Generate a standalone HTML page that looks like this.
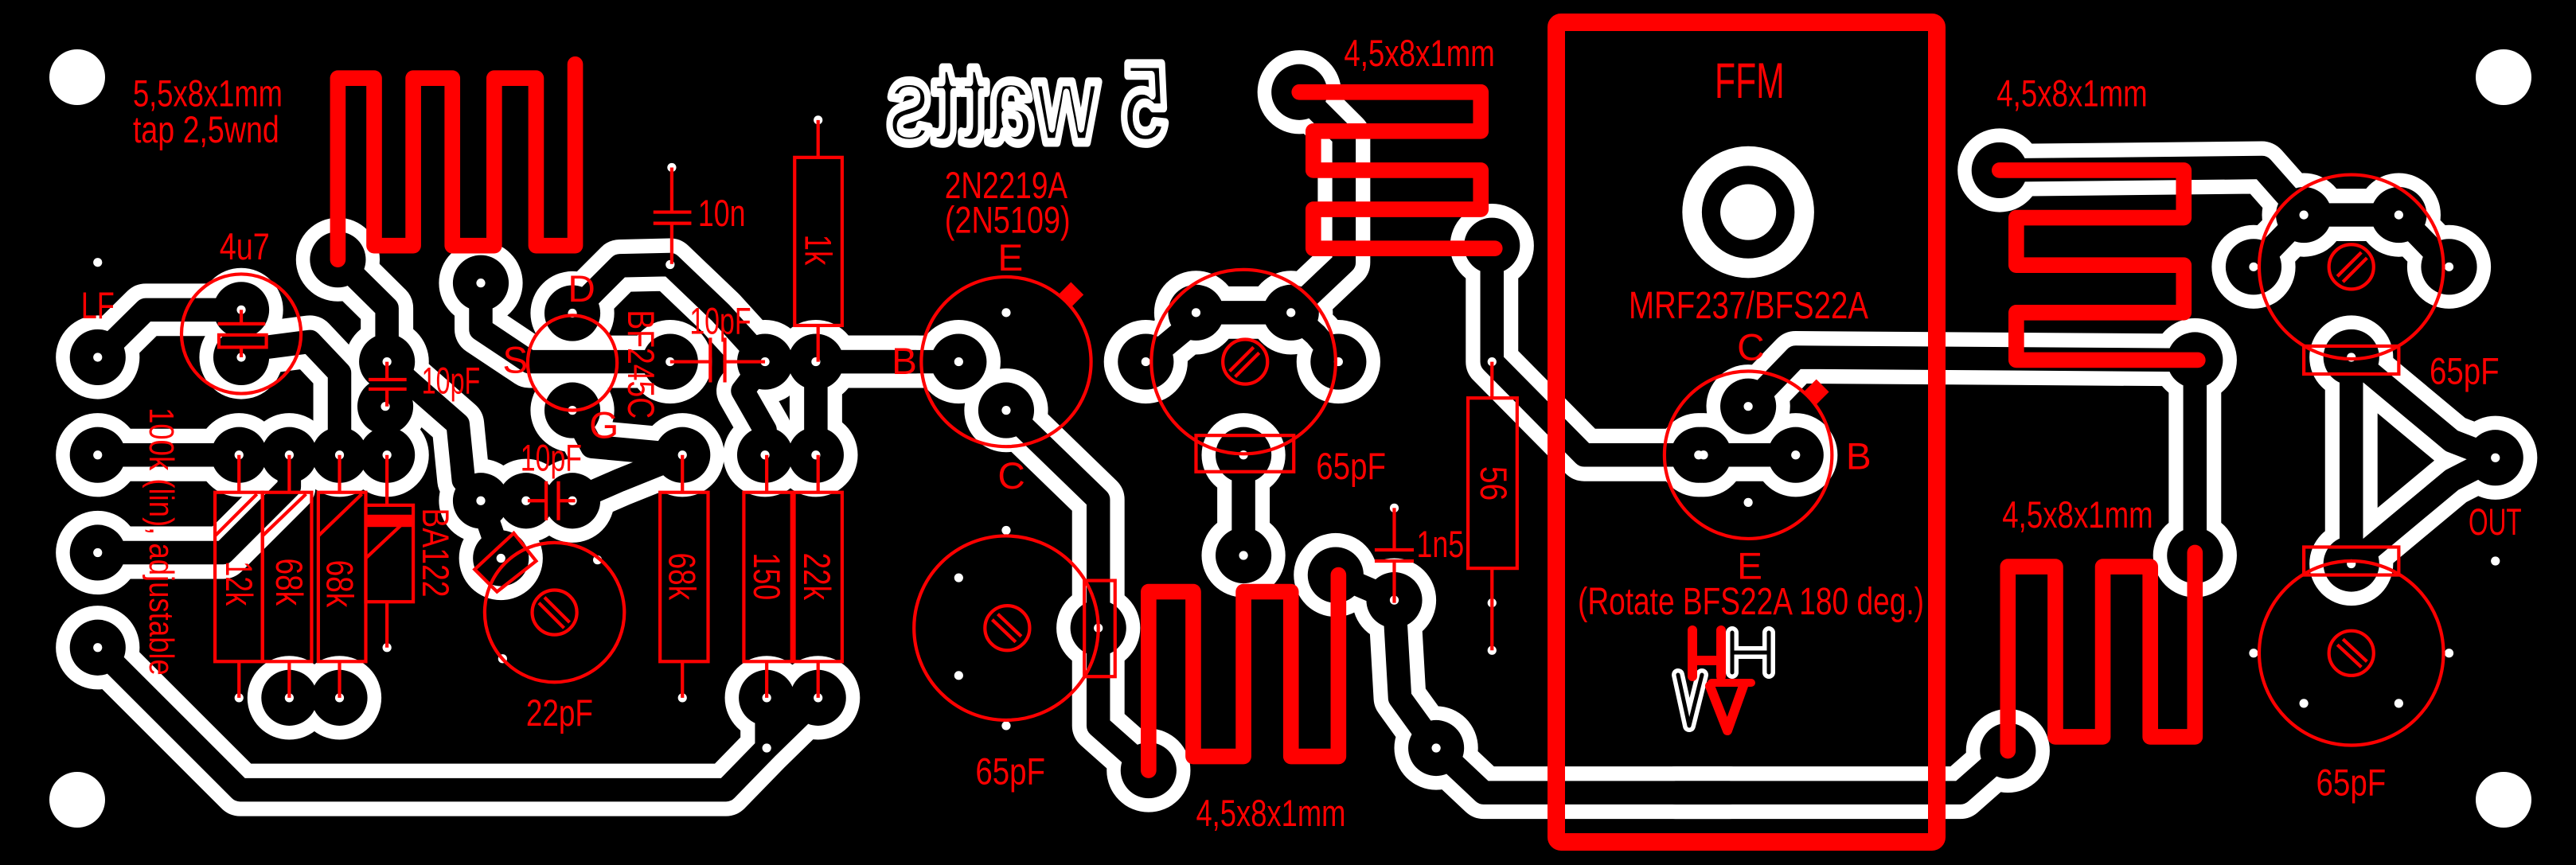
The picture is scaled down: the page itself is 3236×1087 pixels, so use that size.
<!DOCTYPE html>
<html><head><meta charset="utf-8"><style>
html,body{margin:0;padding:0;background:#000;}
svg{display:block}
.o{stroke:#fff;stroke-width:94;fill:none;stroke-linejoin:round;stroke-linecap:round}
.po{stroke:#fff;stroke-width:150;fill:none;stroke-linecap:round}
.i{stroke:#000;stroke-width:42;fill:none;stroke-linejoin:round;stroke-linecap:round}
.pi{stroke:#000;stroke-width:100;fill:none;stroke-linecap:round}
.d{stroke:#fff;stroke-width:16;fill:none;stroke-linecap:round}
.coil{stroke:#f00;stroke-width:28;fill:none;stroke-linejoin:round;stroke-linecap:round}
.r{stroke:#f00;stroke-width:6;fill:none}
.t{fill:#f00;font-family:"Liberation Sans Narrow","Liberation Sans",sans-serif;font-size:68px}
</style></head><body>
<svg width="3236" height="1087" viewBox="0 0 3236 1087" xmlns="http://www.w3.org/2000/svg" xmlns:xlink="http://www.w3.org/1999/xlink">
<defs>
<g id="NA">
<path d="M175,640 L261,555 L432,555"/>
<path d="M432,628 L555,612 L608,668 L608,815"/>
<path d="M175,815 L428,815"/>
<path d="M175,990 L400,990 L518,872 L518,815"/>
<path d="M175,1160 L430,1415 L1300,1415 L1373,1340 L1373,1250 M1373,1340 L1465,1250"/>
<path d="M605,465 L693,552 L693,648 M690,728 L693,815"/>
<path d="M861,507 L861,590 L948,648 L1200,648"/>
<path d="M1025,561 L1110,476 L1200,474 L1290,560 L1370,648 L1640,648"/>
<path d="M1370,648 L1330,700 L1370,770 L1370,815 M1461,648 L1461,815"/>
<path d="M1025,735 L1060,800 L1222,815 M1025,897 L1110,860 L1222,815"/>
<path d="M861,897 L942,897 M861,897 L897,1000"/>
<path d="M693,648 L740,690 L820,760 L830,860 L861,897"/>
<path d="M518,1250 L608,1250"/>
</g>
<path id="PA" d="M175,640h0M175,815h0M175,990h0M175,1160h0M432,555h0M432,640h0M605,465h0M861,507h0M1025,561h0M1025,735h0M1200,648h0M1370,648h0M1461,648h0M693,648h0M690,728h0M428,815h0M518,815h0M608,815h0M693,815h0M1222,815h0M1370,815h0M1461,815h0M861,897h0M942,897h0M1025,897h0M897,1000h0M518,1250h0M608,1250h0M1373,1250h0M1465,1250h0"/>
<path id="DA" d="M175,470h0M1203,300h0M1465,215h0M428,1250h0M693,1160h0M1222,1250h0M1373,1340h0M1070,1003h0M900,1180h0M1200,474h0"/>
<g id="NB">
<path d="M-80,648 L220,648"/>
<path d="M305,735 L470,895 L470,1300 L560,1380"/>
<path d="M555,648 L625,590 L645,560 L815,560 L860,600 L900,648 M730,815 L730,995"/>
<path d="M830,165 L910,245 L910,470 L815,560"/>
<path d="M1175,440 L1175,648 L1340,815 L1545,815 L1600,815"/>
<path d="M895,1030 L1000,1075 L1010,1250 L1075,1340 L1160,1420 L1600,1420"/>
</g>
<path id="PB" d="M220,648h0M305,735h0M555,648h0M645,560h0M815,560h0M900,648h0M730,815h0M730,995h0M830,165h0M1175,440h0M560,1380h0M470,1125h0M895,1030h0M1000,1075h0M1075,1340h0M1545,815h0"/>
<path id="DB" d="M305,560h0M305,950h0M220,1035h0M220,1210h0M305,1300h0M1175,648h0M1175,1080h0M1175,1165h0M1000,910h0"/>
<g id="NC">
<path d="M80,728 L165,640 L880,645 L880,995"/>
<path d="M530,305 L1000,300 L1075,385 L1245,385 M985,478 L1075,385 M1245,385 L1335,478"/>
<path d="M1160,640 L1160,1010 M1160,640 L1340,790 L1418,820 L1340,860 L1160,1010"/>
<path d="M-30,815 L165,815"/>
<path d="M-50,1420 L460,1420 L545,1345"/>
</g>
<path id="PC" d="M80,728h0M0,815h0M165,815h0M880,645h0M880,995h0M530,305h0M1075,385h0M1245,385h0M985,478h0M1335,478h0M1160,640h0M1160,1010h0M1418,820h0M545,1345h0"/>
<path id="DC" d="M80,900h0M1418,1005h0M985,1170h0M1335,1170h0M1075,1260h0M1245,1260h0"/>
</defs>

<rect width="3236" height="1087" fill="#000"/>

<!-- outer outlines -->
<g transform="scale(.7015)"><use href="#NA" class="o"/><use href="#PA" class="po"/></g>
<g transform="translate(1050,0) scale(.7015)"><use href="#NB" class="o"/><use href="#PB" class="po"/></g>
<g transform="translate(2140,0) scale(.7015)"><use href="#NC" class="o"/><use href="#PC" class="po"/></g>
<!-- copper (black) -->
<g transform="scale(.7015)"><use href="#NA" class="i"/><use href="#PA" class="pi"/></g>
<g transform="translate(1050,0) scale(.7015)"><use href="#NB" class="i"/><use href="#PB" class="pi"/></g>
<g transform="translate(2140,0) scale(.7015)"><use href="#NC" class="i"/><use href="#PC" class="pi"/></g>
<!-- drills -->
<g transform="scale(.7015)"><use href="#PA" class="d"/><use href="#DA" class="d"/></g>
<g transform="translate(1050,0) scale(.7015)"><use href="#PB" class="d"/><use href="#DB" class="d"/></g>
<g transform="translate(2140,0) scale(.7015)"><use href="#PC" class="d"/><use href="#DC" class="d"/></g>

<!-- mounting holes -->
<circle cx="97" cy="97" r="35" fill="#fff"/>
<circle cx="97" cy="1005" r="35" fill="#fff"/>
<circle cx="3145" cy="97" r="35" fill="#fff"/>
<circle cx="3145" cy="1005" r="35" fill="#fff"/>

<!-- 5 watts mirrored -->
<g transform="translate(1050,0) scale(.7015)">
<text transform="translate(595,0) scale(-1,1)" x="0" y="255" textLength="505" lengthAdjust="spacingAndGlyphs" font-family="Liberation Sans, sans-serif" font-weight="bold" font-size="205" fill="#000" stroke="#fff" stroke-width="16" stroke-linejoin="round">5 watts</text>
</g>

<!-- REGION 1 silkscreen -->
<g transform="scale(.7015)">
<path class="coil" d="M605,465 L605,140 L670,140 L670,440 L740,440 L740,140 L810,140 L810,440 L885,440 L885,140 L960,140 L960,440 L1030,440 L1030,115"/>
<circle class="r" cx="432" cy="598" r="107"/>
<path class="r" d="M432,555V580M390,580H475M432,622V640"/><rect class="r" x="392" y="600" width="85" height="22"/>
<path class="r" d="M1203,300V380M1170,380H1238M1170,400H1238M1203,400V473"/>
<rect class="r" x="1423" y="282" width="85" height="301"/><path class="r" d="M1465,215V282M1465,583V648"/>
<path class="r" d="M1200,648H1272M1272,605V685M1298,605V685M1298,648H1370"/>
<path class="r" d="M693,648V680M660,680H728M660,697H728M693,697V728"/>
<ellipse class="r" cx="1025" cy="650" rx="80" ry="85"/>
<path class="r" d="M945,897H978M978,862V932M1000,862V932M1000,897H1030"/>
<rect class="r" x="385" y="882" width="85" height="303"/>
<rect class="r" x="470" y="882" width="88" height="303"/>
<rect class="r" x="570" y="882" width="85" height="303"/>
<rect class="r" x="655" y="905" width="85" height="173"/><rect x="655" y="922" width="85" height="22" fill="#f00"/>
<rect class="r" x="1182" y="882" width="86" height="303"/>
<rect class="r" x="1332" y="882" width="86" height="303"/>
<rect class="r" x="1422" y="882" width="86" height="303"/>
<path class="r" d="M428,815V882M428,1185V1250M518,815V882M518,1185V1250M608,815V882M608,1185V1250M693,815V905M693,1078V1160M1222,815V882M1222,1185V1250M1373,815V882M1373,1185V1250M1465,815V882M1465,1185V1250"/>
<path class="r" d="M385,960L460,885M470,960L548,885M570,960L648,885M655,1000L735,925"/>
<circle class="r" cx="993" cy="1097" r="125"/><circle class="r" cx="993" cy="1097" r="40"/>
<path class="r" d="M965,1080L1010,1125M975,1070L1020,1115"/>
<path class="r" d="M850,1020L920,955L960,1005L890,1060Z"/>
<g class="t">
<text x="238" y="190" textLength="268" lengthAdjust="spacingAndGlyphs">5,5x8x1mm</text>
<text x="238" y="255" textLength="262" lengthAdjust="spacingAndGlyphs">tap 2,5wnd</text>
<text x="393" y="465" textLength="90" lengthAdjust="spacingAndGlyphs">4u7</text>
<text x="145" y="570" textLength="60" lengthAdjust="spacingAndGlyphs">LF</text>
<text x="1250" y="405" textLength="85" lengthAdjust="spacingAndGlyphs">10n</text>
<text x="1235" y="598" textLength="110" lengthAdjust="spacingAndGlyphs">10pF</text>
<text x="755" y="705" textLength="105" lengthAdjust="spacingAndGlyphs">10pF</text>
<text x="932" y="843" textLength="110" lengthAdjust="spacingAndGlyphs">10pF</text>
<text x="1017" y="540">D</text>
<text x="900" y="668">S</text>
<text x="1055" y="785">G</text>
<text x="942" y="1300" textLength="120" lengthAdjust="spacingAndGlyphs">22pF</text>
<text transform="translate(268,730) rotate(90)" font-size="62" textLength="480" lengthAdjust="spacingAndGlyphs">100k (lin), adjustable</text>
<text transform="translate(1125,555) rotate(90)" textLength="195" lengthAdjust="spacingAndGlyphs">BF245C</text>
<text transform="translate(757,910) rotate(90)" textLength="160" lengthAdjust="spacingAndGlyphs">BA122</text>
<text transform="translate(1442,420) rotate(90)" textLength="55" lengthAdjust="spacingAndGlyphs">1k</text>
<text transform="translate(405,1005) rotate(90)" textLength="80" lengthAdjust="spacingAndGlyphs">12k</text>
<text transform="translate(495,1000) rotate(90)" textLength="85" lengthAdjust="spacingAndGlyphs">68k</text>
<text transform="translate(585,1003) rotate(90)" textLength="85" lengthAdjust="spacingAndGlyphs">68k</text>
<text transform="translate(1198,990) rotate(90)" textLength="85" lengthAdjust="spacingAndGlyphs">68k</text>
<text transform="translate(1350,990) rotate(90)" textLength="85" lengthAdjust="spacingAndGlyphs">150</text>
<text transform="translate(1440,990) rotate(90)" textLength="85" lengthAdjust="spacingAndGlyphs">22k</text>
</g>
</g>

<!-- REGION 2 silkscreen -->
<g transform="translate(1050,0) scale(.7015)">
<path class="coil" d="M830,165 L1155,165 L1155,235 L855,235 L855,305 L1155,305 L1155,375 L855,375 L855,445 L1180,445"/>
<path class="coil" d="M560,1380 L560,1060 L640,1060 L640,1355 L730,1355 L730,1060 L815,1060 L815,1355 L900,1355 L900,1030"/>
<circle class="r" cx="305" cy="648" r="152"/>
<rect x="405" y="512" width="32" height="32" fill="#f00" transform="rotate(45 421 528)"/>
<circle class="r" cx="730" cy="648" r="165"/><circle class="r" cx="733" cy="648" r="40"/>
<path class="r" d="M705,665L748,622M715,675L758,632"/>
<rect class="r" x="645" y="780" width="175" height="65"/>
<circle class="r" cx="305" cy="1125" r="165"/><circle class="r" cx="307" cy="1125" r="40"/>
<path class="r" d="M280,1110L322,1150M290,1100L332,1140"/>
<rect class="r" x="445" y="1040" width="55" height="172"/>
<path class="r" d="M1000,910V985M965,985H1035M965,1005H1035M1000,1005V1080"/>
<rect class="r" x="1132" y="713" width="88" height="305"/><path class="r" d="M1175,648V713M1175,1018V1165"/>
<g class="t">
<text x="195" y="355" textLength="220" lengthAdjust="spacingAndGlyphs">2N2219A</text>
<text x="195" y="417" textLength="225" lengthAdjust="spacingAndGlyphs">(2N5109)</text>
<text x="290" y="485">E</text>
<text x="100" y="670">B</text>
<text x="290" y="875">C</text>
<text x="860" y="858" textLength="125" lengthAdjust="spacingAndGlyphs">65pF</text>
<text x="250" y="1405" textLength="125" lengthAdjust="spacingAndGlyphs">65pF</text>
<text x="910" y="118" textLength="270" lengthAdjust="spacingAndGlyphs">4,5x8x1mm</text>
<text x="645" y="1480" textLength="268" lengthAdjust="spacingAndGlyphs">4,5x8x1mm</text>
<text x="1040" y="998" textLength="85" lengthAdjust="spacingAndGlyphs">1n5</text>
<text transform="translate(1155,835) rotate(90)" textLength="62" lengthAdjust="spacingAndGlyphs">56</text>
</g>
</g>

<!-- REGION 3 silkscreen -->
<g transform="translate(2140,0) scale(.7015)">
<circle cx="80" cy="380" r="118" fill="#fff"/><circle cx="80" cy="380" r="83" fill="#000"/><circle cx="80" cy="380" r="50" fill="#fff"/>
<path class="coil" d="M530,305 L860,305 L860,390 L560,390 L560,475 L860,475 L860,560 L560,560 L560,645 L885,645"/>
<path class="coil" d="M545,1345 L545,1015 L630,1015 L630,1320 L715,1320 L715,1015 L800,1015 L800,1320 L880,1320 L880,990"/>
<circle class="r" cx="80" cy="815" r="150"/>
<rect x="186" y="686" width="32" height="32" fill="#f00" transform="rotate(45 202 702)"/>
<circle class="r" cx="1160" cy="478" r="165"/><circle class="r" cx="1160" cy="478" r="40"/>
<path class="r" d="M1135,495L1178,452M1145,505L1188,462"/>
<rect class="r" x="1075" y="620" width="170" height="50"/>
<circle class="r" cx="1160" cy="1170" r="165"/><circle class="r" cx="1160" cy="1170" r="40"/>
<path class="r" d="M1135,1155L1178,1195M1145,1145L1188,1185"/>
<rect class="r" x="1075" y="980" width="170" height="50"/>
<g class="t">
<text x="20" y="175" font-size="90" textLength="125" lengthAdjust="spacingAndGlyphs">FFM</text>
<text x="60" y="645">C</text>
<text x="255" y="840">B</text>
<text x="60" y="1037">E</text>
<text x="525" y="190" textLength="270" lengthAdjust="spacingAndGlyphs">4,5x8x1mm</text>
<text x="535" y="945" textLength="270" lengthAdjust="spacingAndGlyphs">4,5x8x1mm</text>
<text x="1300" y="688" textLength="125" lengthAdjust="spacingAndGlyphs">65pF</text>
<text x="1097" y="1425" textLength="125" lengthAdjust="spacingAndGlyphs">65pF</text>
<text x="1370" y="958" textLength="95" lengthAdjust="spacingAndGlyphs">OUT</text>
</g>
</g>

<!-- full-coord texts -->
<g class="t" style="font-size:48px">
<text x="2046" y="400" textLength="301" lengthAdjust="spacingAndGlyphs">MRF237/BFS22A</text>
<text x="1982" y="772" textLength="435" lengthAdjust="spacingAndGlyphs">(Rotate BFS22A 180 deg.)</text>
</g>

<!-- HV marks -->
<g fill="none" stroke-linecap="round" stroke-linejoin="round">
<path d="M2176,795V845M2222,795V845M2176,820H2222" stroke="#fff" stroke-width="16"/>
<path d="M2176,795V845M2222,795V845M2176,820H2222" stroke="#000" stroke-width="5"/>
<path d="M2108,848L2122,912L2138,848" stroke="#fff" stroke-width="16"/>
<path d="M2108,848L2122,912L2138,848" stroke="#000" stroke-width="5"/>
<path d="M2126,792V850M2162,792V850M2126,830H2162" stroke="#f00" stroke-width="12"/>
<path d="M2150,858L2200,858M2162,858L2200,858" stroke="#f00" stroke-width="10"/>
<path d="M2148,862L2170,918L2190,862" stroke="#f00" stroke-width="12"/>
</g>

<!-- FFM box -->
<rect x="1955" y="28" width="478" height="1030" rx="6" fill="none" stroke="#f00" stroke-width="22"/>
</svg>
</body></html>
